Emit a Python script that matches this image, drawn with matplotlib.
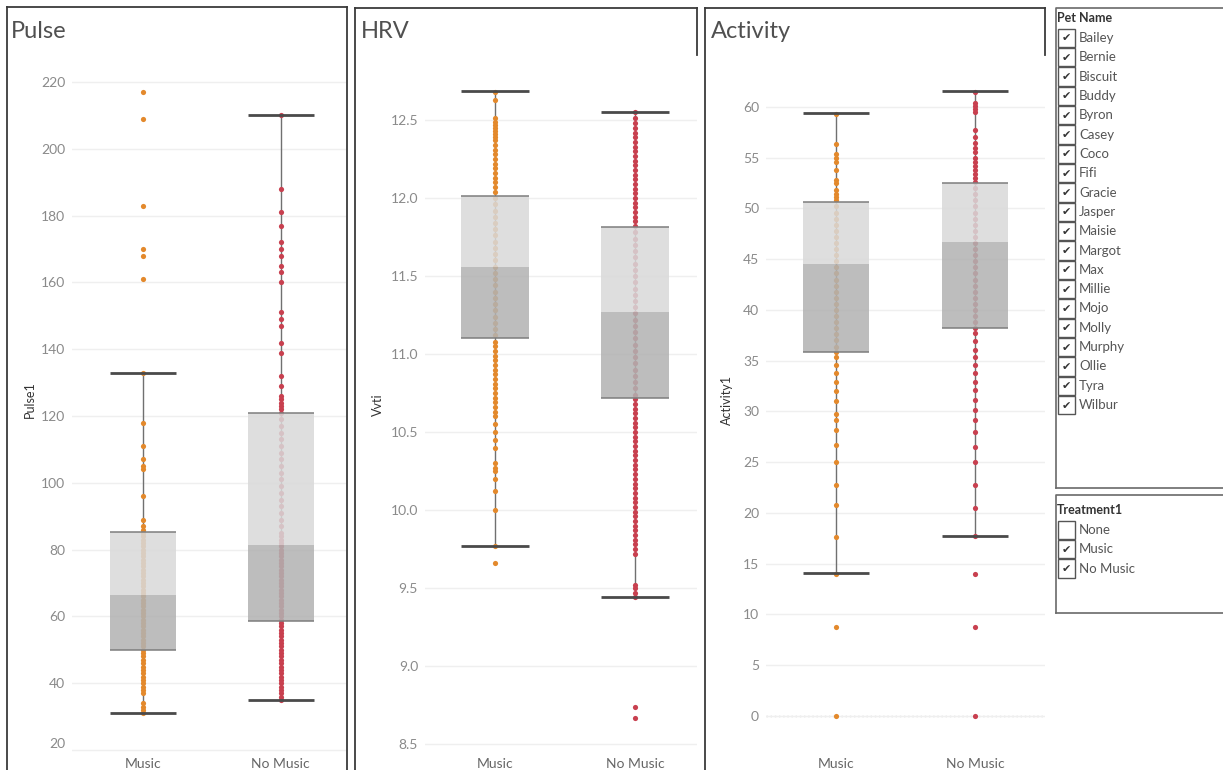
import matplotlib
matplotlib.use("Agg")
import matplotlib.pyplot as plt
from matplotlib.patches import Rectangle
import numpy as np

plt.rcParams['font.family'] = ['Lato', 'DejaVu Sans']

# ---------------- data ----------------
categories = ["Music", "No Music"]

pulse_music = [217, 209, 183, 170, 168, 161, 133, 118, 111, 107, 105, 104, 96, 89, 87, 86,
               85, 84, 83, 82, 81, 80, 79, 78, 77, 76, 75, 74, 73, 72, 71, 70, 69, 68, 67, 66,
               65, 64, 63, 62, 61, 60, 59, 58, 57, 56, 55, 54, 53, 52, 51, 50,
               49, 48, 47, 46, 45, 44, 43, 42, 41, 40, 39, 38, 37, 34, 33, 32, 31]
pulse_nomusic = [210, 188, 181, 177, 172, 170, 168, 165, 163, 160, 151, 149, 147, 142, 139, 132,
                 129, 126, 125, 124, 123, 122, 121, 119, 117, 115, 113, 111, 109, 107, 105, 103,
                 101, 99, 97, 95, 93, 91, 89, 87, 85, 84, 83, 82, 81, 80, 79, 78, 77, 76, 75, 74,
                 73, 72, 71, 70, 69, 68, 67, 66, 65, 64, 63, 62, 61, 60, 59, 58, 57, 56, 55, 54,
                 53, 52, 51, 50, 49, 48, 47, 46, 45, 44, 43, 42, 41, 40, 39, 38, 37, 36, 35]

hrv_music = [12.68, 12.63, 12.51, 12.49, 12.47, 12.45, 12.43, 12.41, 12.39, 12.37, 12.34, 12.31,
             12.28, 12.25, 12.22, 12.19, 12.16, 12.13, 12.10, 12.07, 12.04, 12.00, 11.96, 11.92,
             11.88, 11.84, 11.80, 11.76, 11.72, 11.68, 11.64, 11.60, 11.56, 11.52, 11.48, 11.44,
             11.40, 11.36, 11.32, 11.28, 11.24, 11.20, 11.16, 11.12, 11.08, 11.05, 11.02, 10.99,
             10.96, 10.93, 10.90, 10.87, 10.84, 10.81, 10.78, 10.75, 10.72, 10.69, 10.66, 10.63,
             10.60, 10.55, 10.50, 10.45, 10.40, 10.30, 10.27, 10.25, 10.20, 10.12, 10.00, 9.77, 9.66]
hrv_nomusic = [12.55, 12.51, 12.48, 12.45, 12.42, 12.39, 12.36, 12.33, 12.30, 12.27, 12.24, 12.21,
               12.18, 12.15, 12.12, 12.09, 12.06, 12.03, 12.00, 11.97, 11.94, 11.91, 11.88, 11.85,
               11.82, 11.78, 11.74, 11.70, 11.66, 11.62, 11.58, 11.54, 11.50, 11.46, 11.42, 11.38,
               11.34, 11.30, 11.26, 11.22, 11.18, 11.14, 11.10, 11.06, 11.02, 10.98, 10.94, 10.90,
               10.86, 10.82, 10.78, 10.74, 10.71, 10.68, 10.65, 10.62, 10.59, 10.56, 10.53, 10.50,
               10.47, 10.44, 10.41, 10.38, 10.35, 10.32, 10.29, 10.26, 10.23, 10.20, 10.17, 10.14,
               10.11, 10.08, 10.05, 10.02, 9.99, 9.96, 9.93, 9.90, 9.87, 9.84, 9.81, 9.78, 9.75,
               9.72, 9.52, 9.50, 9.47, 9.44, 8.74, 8.67]

activity_music = [59.3, 56.4, 55.4, 55.0, 54.6, 53.8, 52.8, 52.5, 51.8, 51.4, 51.1, 50.8, 50.2,
                  49.6, 49.0, 48.4, 47.8, 47.2, 46.6, 46.0, 45.4, 44.8, 44.2, 43.6, 43.0, 42.4,
                  41.8, 41.2, 40.6, 40.0, 39.4, 38.8, 38.2, 37.6, 37.0, 36.4, 35.9, 35.4, 34.6,
                  33.8, 32.9, 32.0, 31.0, 29.8, 29.2, 28.2, 26.7, 25.0, 22.8, 20.8, 17.6, 14.0,
                  8.8, 0.0]
activity_nomusic = [61.5, 60.4, 60.1, 59.8, 59.5, 57.7, 57.0, 56.5, 56.0, 55.6, 55.0, 54.6, 54.2,
                    53.8, 53.4, 53.0, 52.6, 52.0, 51.4, 50.8, 50.2, 49.6, 49.0, 48.4, 47.8, 47.2,
                    46.6, 46.0, 45.4, 44.8, 44.2, 43.6, 43.0, 42.4, 41.8, 41.2, 40.6, 40.0, 39.4,
                    38.8, 38.2, 37.7, 36.9, 36.1, 35.4, 34.6, 33.8, 32.9, 32.1, 31.1, 30.1, 29.2,
                    28.0, 26.5, 25.0, 22.8, 20.5, 17.7, 14.0, 8.8, 0.0]

# box statistics [Music, No Music]
pulse_lo, pulse_q1, pulse_med, pulse_q3, pulse_hi = [31, 35], [50, 58.7], [66.3, 81.4], [85.4, 121], [133, 210]
hrv_lo, hrv_q1, hrv_med, hrv_q3, hrv_hi = [9.77, 9.44], [11.1, 10.72], [11.555, 11.27], [12.01, 11.815], [12.685, 12.55]
act_lo, act_q1, act_med, act_q3, act_hi = [14.1, 17.7], [35.9, 38.2], [44.5, 46.7], [50.6, 52.5], [59.4, 61.6]

pulse_ticks = [20, 40, 60, 80, 100, 120, 140, 160, 180, 200, 220]
hrv_ticks = [8.5, 9.0, 9.5, 10.0, 10.5, 11.0, 11.5, 12.0, 12.5]
act_ticks = [0, 5, 10, 15, 20, 25, 30, 35, 40, 45, 50, 55, 60]

pet_names = ["Bailey", "Bernie", "Biscuit", "Buddy", "Byron", "Casey", "Coco", "Fifi", "Gracie",
             "Jasper", "Maisie", "Margot", "Max", "Millie", "Mojo", "Molly", "Murphy", "Ollie",
             "Tyra", "Wilbur"]
treatments = ["None", "Music", "No Music"]
treatment_checked = [False, True, True]

# ---------------- style ----------------
W, H = 1223, 770
point_colors = ["#e3892c", "#c8404f"]
light_box = "#d9d9d9"
dark_box = "#b2b2b2"

fig = plt.figure(figsize=(W / 100, H / 100), dpi=100)
fig.patch.set_facecolor("white")

# overlay axes in pixel coordinates
ov = fig.add_axes([0, 0, 1, 1])
ov.set_xlim(0, W)
ov.set_ylim(H, 0)
ov.axis("off")


def rect(x0, y0, x1, y1):
    return [x0 / W, 1 - y1 / H, (x1 - x0) / W, (y1 - y0) / H]


def panel(x0, x1, xlim, ylim, ticks, ticklabels, groups, lo, q1, med, q3, hi, zero_line=False,
          low_label_shift=False):
    ax = fig.add_axes(rect(x0, 60, x1, 752))
    ax.set_xlim(*xlim)
    ax.set_ylim(*ylim)
    for s in ax.spines.values():
        s.set_visible(False)
    ax.set_yticks(ticks)
    ax.set_yticklabels(ticklabels)
    ax.tick_params(axis="y", length=0, pad=5, labelsize=10, labelcolor="#8a8a8a")
    ax.set_xticks([0, 1])
    ax.set_xticklabels(categories)
    ax.tick_params(axis="x", length=0, pad=4, labelsize=10, labelcolor="#666666")
    ax.yaxis.grid(True, color="#efefef", lw=1)
    ax.set_axisbelow(True)
    if low_label_shift:
        ax.get_yticklabels()[0].set_verticalalignment("bottom")
    if zero_line:
        ax.axhline(0, color="#bdbdbd", lw=1.0, ls=(0, (1, 2)), zorder=0.5)
    w = 0.48
    for i in range(2):
        ax.vlines(i, lo[i], hi[i], color="#707070", lw=1, zorder=1)
        vals = groups[i]
        ax.scatter(np.full(len(vals), i), vals, s=14, color=point_colors[i], lw=0, zorder=2)
        ax.bar(i, q3[i] - med[i], bottom=med[i], width=w, color=light_box, alpha=0.86, zorder=3)
        ax.bar(i, med[i] - q1[i], bottom=q1[i], width=w, color=dark_box, alpha=0.86, zorder=3)
        ax.hlines([q1[i], q3[i]], i - w / 2, i + w / 2, color="#7d7d7d", lw=1.1, zorder=4)
        ax.hlines([lo[i], hi[i]], i - w / 2, i + w / 2, color="#4a4a4a", lw=2, zorder=4)
    return ax


panel(72, 346, (-0.518, 1.474), (19.4, 226.6), pulse_ticks, [str(t) for t in pulse_ticks],
      [pulse_music, pulse_nomusic], pulse_lo, pulse_q1, pulse_med, pulse_q3, pulse_hi,
      low_label_shift=True)
panel(425, 697, (-0.5, 1.443), (8.449, 12.885), hrv_ticks, ["%.1f" % t for t in hrv_ticks],
      [hrv_music, hrv_nomusic], hrv_lo, hrv_q1, hrv_med, hrv_q3, hrv_hi)
panel(766, 1045, (-0.504, 1.504), (-3.55, 64.63), act_ticks, [str(t) for t in act_ticks],
      [activity_music, activity_nomusic], act_lo, act_q1, act_med, act_q3, act_hi, zero_line=True)

# titles and axis labels
for x, t in [(11, "Pulse"), (361, "HRV"), (711, "Activity")]:
    ov.text(x, 32, t, fontsize=17, color="#505050", ha="left", va="center")
for x, y, t in [(30, 400, "Pulse1"), (378, 405, "Vvti"), (727, 400, "Activity1")]:
    ov.text(x, y, t, fontsize=9, color="#333333", ha="center", va="center", rotation=90)

# panel borders
bc = "#3a3a3a"
blw = 1.3
ov.plot([7, 7], [7, H], color=bc, lw=blw)
ov.plot([7, 347], [7, 7], color=bc, lw=blw)
ov.plot([347, 347], [7, H], color=bc, lw=blw)
ov.plot([355, 355], [8, H], color=bc, lw=blw)
ov.plot([355, 697], [8, 8], color=bc, lw=blw)
ov.plot([697, 697], [8, 55], color=bc, lw=blw)
ov.plot([705, 705], [8, H], color=bc, lw=blw)
ov.plot([705, 1045], [8, 8], color=bc, lw=blw)
ov.plot([1045, 1045], [8, 55], color=bc, lw=blw)

# filter cards
lc = "#6a6a6a"
ov.plot([1056, 1056, W], [488, 8, 8], color=lc, lw=1.2)
ov.plot([1056, W], [488, 488], color=lc, lw=1.2)
ov.plot([1056, 1056, W], [613, 495, 495], color=lc, lw=1.2)
ov.plot([1056, W], [613, 613], color=lc, lw=1.2)

ov.text(1057, 18, "Pet Name", fontsize=9, fontweight="bold", color="#333333", ha="left", va="center")
ov.text(1057, 510, "Treatment1", fontsize=9, fontweight="bold", color="#333333", ha="left", va="center")

step = 19.32


def checklist(y0, labels, checked):
    for k, name in enumerate(labels):
        yc = y0 + k * step
        ov.add_patch(Rectangle((1058, yc - step / 2 + 0.5), 17, step - 1, fill=False,
                               edgecolor="#555555", lw=1))
        if checked[k]:
            ov.text(1066.5, yc + 0.5, "\u2714", fontsize=8, color="#333333", ha="center",
                    va="center", family=["DejaVu Sans"])
        ov.text(1079, yc, name, fontsize=9.5, color="#555555", ha="left", va="center")


checklist(38, pet_names, [True] * len(pet_names))
checklist(530, treatments, treatment_checked)

fig.savefig("out.png", dpi=100, facecolor="white")
